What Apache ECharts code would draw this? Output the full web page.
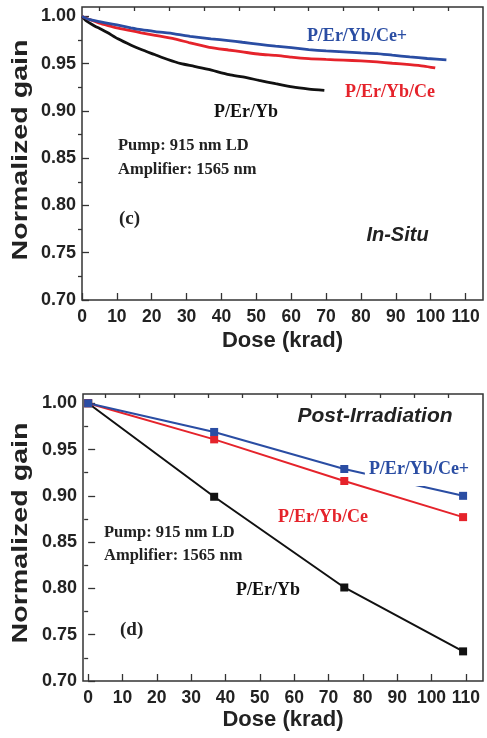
<!DOCTYPE html>
<html><head><meta charset="utf-8">
<script src="https://cdn.jsdelivr.net/npm/echarts@6/dist/echarts.min.js"></script>
<style>html,body{margin:0;padding:0;background:#fff}#c{width:487px;height:738px}</style>
</head><body><div id="c"></div>
<script>
// ---- (c) In-Situ ----
const doseCePlus = [0, 2, 5, 7.5, 10, 14, 17, 21, 26.5, 31, 37, 42, 46, 51, 55.5, 60, 65, 70, 75, 80, 84.6, 89, 94, 99, 104.5];
const gainCePlus = [1.0, 0.997, 0.9945, 0.9926, 0.991, 0.988, 0.986, 0.984, 0.9816, 0.979, 0.9763, 0.9745, 0.9727, 0.9705, 0.9685, 0.967, 0.965, 0.9635, 0.9625, 0.9615, 0.9607, 0.959, 0.9572, 0.9555, 0.954];
const doseCe = [0, 2, 5, 7.5, 10, 14, 17, 21, 26.5, 31, 36.5, 42, 46, 51, 55.5, 60, 65, 70, 75, 80, 84.6, 89, 94, 98, 101.3];
const gainCe = [1.0, 0.997, 0.993, 0.9904, 0.988, 0.985, 0.9827, 0.98, 0.9763, 0.972, 0.9674, 0.9645, 0.9625, 0.96, 0.9589, 0.957, 0.9554, 0.9545, 0.9538, 0.953, 0.9519, 0.9505, 0.949, 0.9475, 0.9455];
const doseYb = [0, 1, 2, 3.6, 5.5, 7.4, 10.3, 14.1, 17, 20.8, 24.6, 28.4, 32.2, 36.3, 42.2, 46.1, 50.8, 55.5, 60.3, 65.1, 69.5];
const gainYb = [1.0, 0.996, 0.9935, 0.99, 0.9865, 0.9827, 0.9763, 0.9695, 0.965, 0.9597, 0.9544, 0.95, 0.9473, 0.944, 0.9384, 0.936, 0.9324, 0.9289, 0.9254, 0.9232, 0.9218];

// ---- (d) Post-Irradiation ----
const dosePost = [0, 36.7, 74.6, 109.2];
const postCePlus = [1.0, 0.969, 0.929, 0.900];
const postCe = [1.0, 0.961, 0.916, 0.877];
const postYb = [1.0, 0.899, 0.801, 0.732];

// ---- tick labels ----
const xMajor = [0, 10, 20, 30, 40, 50, 60, 70, 80, 90, 100, 110];
const xMinor = [5, 15, 25, 35, 45, 55, 65, 75, 85, 95, 105];
const yMajor = [0.70, 0.75, 0.80, 0.85, 0.90, 0.95, 1.00];
const yMinor = [0.725, 0.775, 0.825, 0.875, 0.925, 0.975];

const BLUE = '#2a4da3', RED = '#e5232b', BLACK = '#111111', AX = '#333333';
const SANS = '"Liberation Sans", Arial, sans-serif';
const SERIF = '"Liberation Serif", "Times New Roman", serif';

function zip(a, b) { return a.map((v, i) => [v, b[i]]); }

function xAxes(grid, min) {
  return [
    { type: 'value', gridIndex: grid, min: min, max: 115,
      axisLine: { show: false }, splitLine: { show: false },
      axisTick: { show: true, inside: true, length: 7, customValues: xMajor, lineStyle: { color: AX, width: 1.3 } },
      axisLabel: { customValues: xMajor, margin: 8, fontSize: 17.5, fontWeight: 'bold', fontFamily: SANS, color: '#222', hideOverlap: false },
      name: 'Dose (krad)', nameLocation: 'middle', nameGap: grid === 0 ? 30 : 28,
      nameTextStyle: { fontSize: 22, fontWeight: 'bold', fontFamily: SANS, color: '#222' } },
    { type: 'value', gridIndex: grid, min: min, max: 115,
      axisLine: { show: false }, splitLine: { show: false },
      axisTick: { show: true, inside: true, length: 4, customValues: xMinor, lineStyle: { color: AX, width: 1.3 } },
      axisLabel: { show: false } }
  ];
}
function yAxes(grid) {
  return [
    { type: 'value', gridIndex: grid, min: 0.70, max: 1.01,
      axisLine: { show: false }, splitLine: { show: false },
      axisTick: { show: true, inside: true, length: 7, customValues: yMajor, lineStyle: { color: AX, width: 1.3 } },
      axisLabel: { customValues: yMajor, margin: 6, fontSize: 18, fontWeight: 'bold', fontFamily: SANS, color: '#222',
        formatter: v => v.toFixed(2) } },
    { type: 'value', gridIndex: grid, min: 0.70, max: 1.01,
      axisLine: { show: false }, splitLine: { show: false },
      axisTick: { show: true, inside: true, length: 4, customValues: yMinor, lineStyle: { color: AX, width: 1.3 } },
      axisLabel: { show: false } }
  ];
}

function txt(x, y, text, font, fill, align, extra) {
  return Object.assign({ type: 'text', x: x, y: y, z: 100,
    style: Object.assign({ text: text, font: font, fill: fill, align: align || 'center', verticalAlign: 'middle' }, extra || {}) });
}

const serifB = s => 'bold ' + s + 'px ' + SERIF;
const sansBI = s => 'italic bold ' + s + 'px ' + SANS;

const chart = echarts.init(document.getElementById('c'), null, { renderer: 'canvas' });
chart.setOption({
  backgroundColor: '#ffffff',
  animation: false,
  grid: [
    { left: 82, top: 7, width: 401, height: 293, show: true, borderColor: AX, borderWidth: 1.5, backgroundColor: 'transparent' },
    { left: 83, top: 394, width: 400, height: 287, show: true, borderColor: AX, borderWidth: 1.5, backgroundColor: 'transparent' }
  ],
  xAxis: [].concat(xAxes(0, 0), xAxes(1, -1.5)),
  yAxis: [].concat(yAxes(0), yAxes(1)),
  series: [
    { name: 'P/Er/Yb', type: 'line', xAxisIndex: 0, yAxisIndex: 0, data: zip(doseYb, gainYb), showSymbol: false, smooth: 0.2,
      lineStyle: { color: BLACK, width: 2.8 } },
    { name: 'P/Er/Yb/Ce', type: 'line', xAxisIndex: 0, yAxisIndex: 0, data: zip(doseCe, gainCe), showSymbol: false, smooth: 0.2,
      lineStyle: { color: RED, width: 2.8 } },
    { name: 'P/Er/Yb/Ce+', type: 'line', xAxisIndex: 0, yAxisIndex: 0, data: zip(doseCePlus, gainCePlus), showSymbol: false, smooth: 0.2,
      lineStyle: { color: BLUE, width: 2.8 } },
    { name: 'P/Er/Yb post', type: 'line', xAxisIndex: 2, yAxisIndex: 2, data: zip(dosePost, postYb), symbol: 'rect', symbolSize: 8,
      lineStyle: { color: BLACK, width: 2 }, itemStyle: { color: BLACK } },
    { name: 'P/Er/Yb/Ce post', type: 'line', xAxisIndex: 2, yAxisIndex: 2, data: zip(dosePost, postCe), symbol: 'rect', symbolSize: 8,
      lineStyle: { color: RED, width: 2 }, itemStyle: { color: RED } },
    { name: 'P/Er/Yb/Ce+ post', type: 'line', xAxisIndex: 2, yAxisIndex: 2, data: zip(dosePost, postCePlus), symbol: 'rect', symbolSize: 8,
      lineStyle: { color: BLUE, width: 2 }, itemStyle: { color: BLUE } }
  ],
  graphic: [
    // y-axis titles
    { type: 'text', x: 21, y: 150, rotation: Math.PI / 2, scaleX: 1.3, z: 100,
      style: { text: 'Normalized gain', font: 'bold 22px ' + SANS, fill: '#222', align: 'center', verticalAlign: 'middle' } },
    { type: 'text', x: 21, y: 533, rotation: Math.PI / 2, scaleX: 1.3, z: 100,
      style: { text: 'Normalized gain', font: 'bold 22px ' + SANS, fill: '#222', align: 'center', verticalAlign: 'middle' } },
    // (c)
    txt(357, 36, 'P/Er/Yb/Ce+', serifB(18), BLUE),
    txt(390, 92, 'P/Er/Yb/Ce', serifB(18), RED),
    txt(246, 112, 'P/Er/Yb', serifB(18), BLACK),
    txt(118, 145.5, 'Pump: 915 nm LD', serifB(16.5), '#222', 'left'),
    txt(118, 169.5, 'Amplifier: 1565 nm', serifB(16.5), '#222', 'left'),
    txt(119, 219, '(c)', serifB(19), '#222', 'left'),
    txt(397.5, 235.5, 'In-Situ', sansBI(20), '#222'),
    // (d)
    txt(375, 416, 'Post-Irradiation', sansBI(21), '#222'),
    txt(419, 469, 'P/Er/Yb/Ce+', serifB(18), BLUE, 'center', { backgroundColor: '#ffffff', padding: [4, 4, 12, 4] }),
    txt(323, 517, 'P/Er/Yb/Ce', serifB(18), RED),
    txt(104, 533, 'Pump: 915 nm LD', serifB(16.5), '#222', 'left'),
    txt(104, 556, 'Amplifier: 1565 nm', serifB(16.5), '#222', 'left'),
    txt(268, 590, 'P/Er/Yb', serifB(18), BLACK),
    txt(120, 630.5, '(d)', serifB(19), '#222', 'left')
  ]
});
</script>
</body></html>
